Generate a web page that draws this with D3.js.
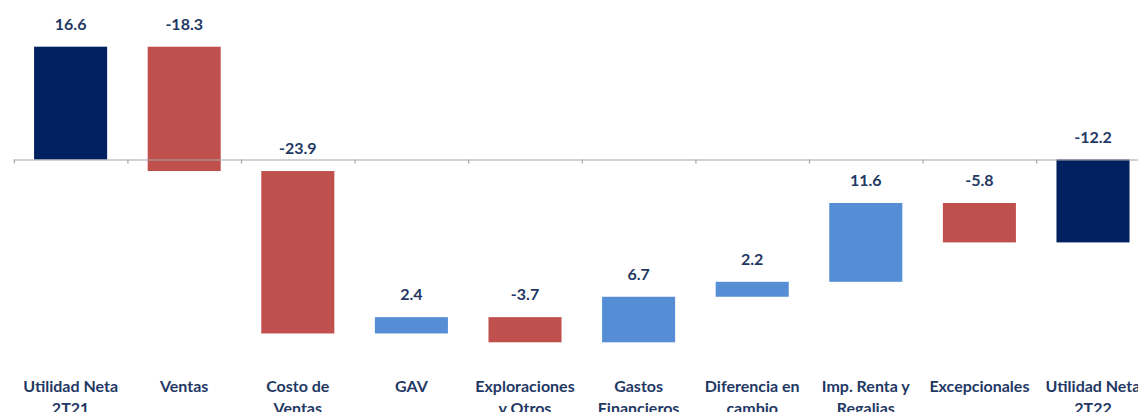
<!DOCTYPE html>
<html>
<head>
<meta charset="utf-8">
<script src="https://cdn.jsdelivr.net/npm/d3@7"></script>
<style>
  html, body { margin: 0; padding: 0; background: #ffffff; }
  svg { display: block; }
</style>
</head>
<body>
<svg id="chart" width="1138" height="412"></svg>
<script>
const categories = [
  ["Utilidad Neta", "2T21"],
  ["Ventas"],
  ["Costo de", "Ventas"],
  ["GAV"],
  ["Exploraciones", "y Otros"],
  ["Gastos", "Financieros"],
  ["Diferencia en", "cambio"],
  ["Imp. Renta y", "Regalias"],
  ["Excepcionales"],
  ["Utilidad Neta", "2T22"]
];
const values = [16.6, -18.3, -23.9, 2.4, -3.7, 6.7, 2.2, 11.6, -5.8, -12.2];
const isTotal = [true, false, false, false, false, false, false, false, false, true];
const valueLabels = ["16.6", "-18.3", "-23.9", "2.4", "-3.7", "6.7", "2.2", "11.6", "-5.8", "-12.2"];

const colors = { total: "#002060", neg: "#C0504D", pos: "#558ED5" };
const textColor = "#1F3864";
const fontFamily = "Lato, 'Open Sans', sans-serif";

// waterfall bars
let running = 0;
const bars = values.map((v, i) => {
  let y0, y1, kind;
  if (isTotal[i]) { y0 = 0; y1 = v; running = v; kind = "total"; }
  else { y0 = running; y1 = running + v; running = y1; kind = v < 0 ? "neg" : "pos"; }
  return { i, key: categories[i].join(" "), y0, y1, kind, label: valueLabels[i] };
});

const svg = d3.select("#chart");
const x0 = 13.8, step = 113.6;
const x = d3.scaleBand()
  .domain(bars.map(d => d.key))
  .range([x0, x0 + step * categories.length])
  .paddingInner(0.357)
  .paddingOuter(0.357 / 2);

const pxPerUnit = 6.795, zeroY = 159.5;
const y = d3.scaleLinear().domain([-30, 20]).range([zeroY + 30 * pxPerUnit, zeroY - 20 * pxPerUnit]);

// bars
svg.append("g").selectAll("rect").data(bars).join("rect")
  .attr("x", d => x(d.key))
  .attr("width", x.bandwidth())
  .attr("y", d => y(Math.max(d.y0, d.y1)))
  .attr("height", d => Math.abs(y(d.y0) - y(d.y1)))
  .attr("fill", d => colors[d.kind]);

// axis with ticks at category boundaries
const xb = d3.scaleLinear().domain([0, categories.length]).range([x0, x0 + step * categories.length]);
const axis = svg.append("g")
  .attr("transform", `translate(0,${y(0)})`)
  .call(d3.axisBottom(xb).tickValues(d3.range(0, categories.length + 1)).tickSize(4).tickSizeOuter(0).tickFormat(""));
axis.select(".domain").attr("stroke", "#A6A6A6").attr("stroke-width", 1.2);
axis.selectAll(".tick line").attr("stroke", "#A6A6A6").attr("stroke-width", 1.2);

// value labels
svg.append("g").selectAll("text").data(bars).join("text")
  .attr("x", d => x(d.key) + x.bandwidth() / 2)
  .attr("y", d => y(Math.max(d.y0, d.y1)) - 16.7)
  .attr("text-anchor", "middle")
  .attr("font-family", fontFamily)
  .attr("font-weight", "bold")
  .attr("font-size", "16px")
  .attr("fill", textColor)
  .text(d => d.label);

// category labels
const cat = svg.append("g").selectAll("text").data(bars).join("text")
  .attr("x", d => x(d.key) + x.bandwidth() / 2)
  .attr("y", 392)
  .attr("text-anchor", "middle")
  .attr("font-family", fontFamily)
  .attr("font-weight", "bold")
  .attr("font-size", "16px")
  .attr("fill", textColor);
cat.each(function(d) {
  const t = d3.select(this);
  categories[d.i].forEach((line, k) => {
    t.append("tspan")
      .attr("x", x(d.key) + x.bandwidth() / 2)
      .attr("dy", k === 0 ? 0 : 21.7)
      .text(line);
  });
});
</script>
</body>
</html>
